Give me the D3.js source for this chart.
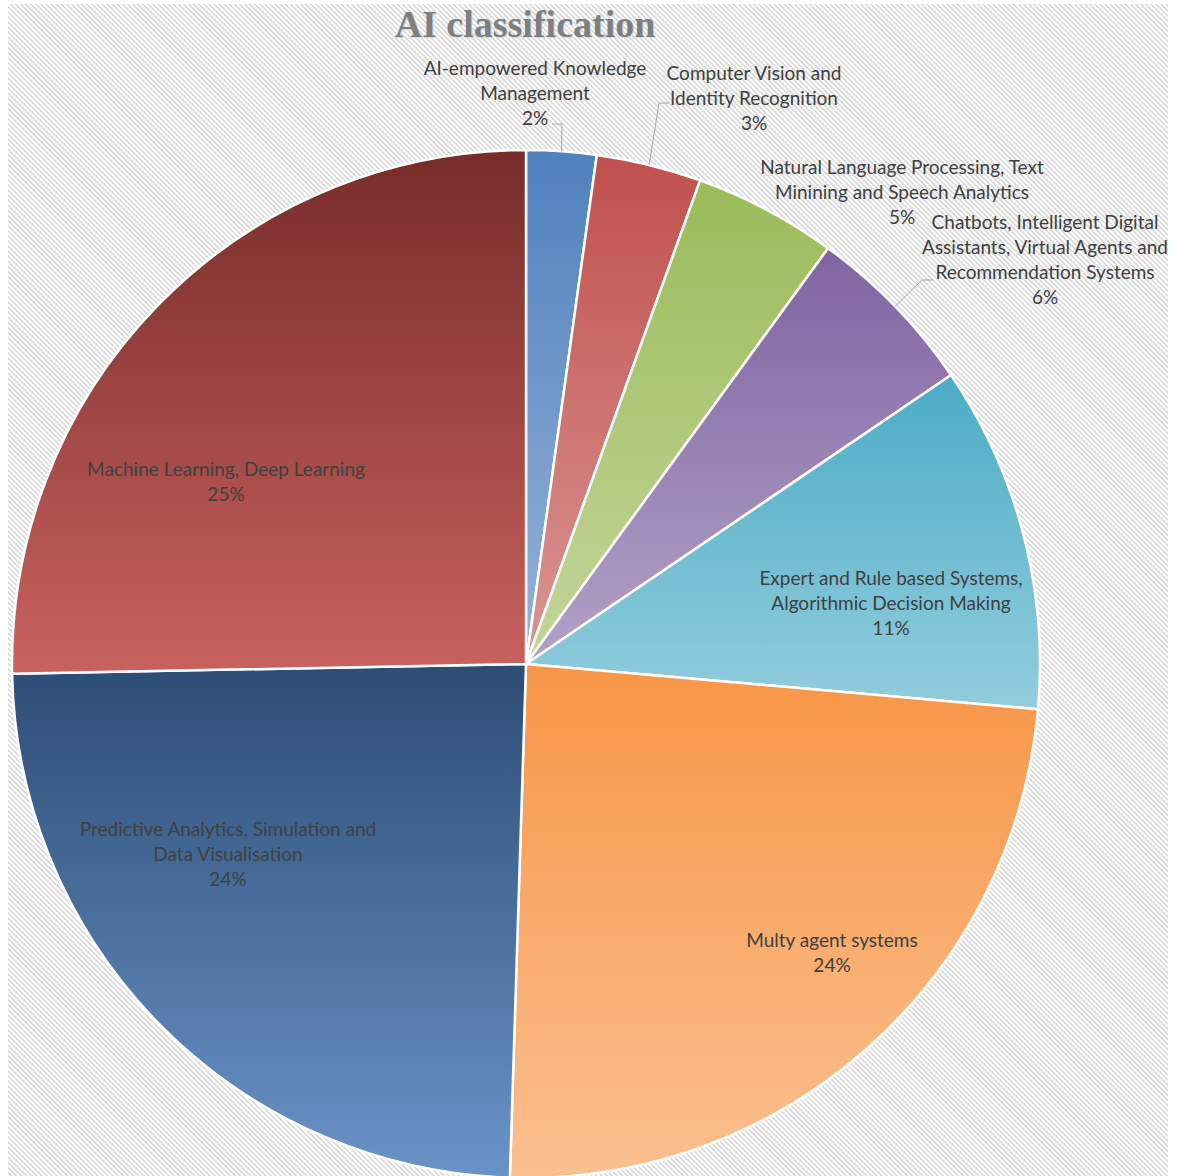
<!DOCTYPE html>
<html>
<head>
<meta charset="utf-8">
<script src="https://cdn.jsdelivr.net/npm/d3@7"></script>
<style>
  html, body { margin: 0; padding: 0; background: #ffffff; }
  svg { display: block; }
</style>
</head>
<body>
<svg id="chart" width="1178" height="1176"></svg>
<script>
// ---- data ----
const categories = [
  "AI-empowered Knowledge Management",
  "Computer Vision and Identity Recognition",
  "Natural Language Processing, Text Minining and Speech Analytics",
  "Chatbots, Intelligent Digital Assistants, Virtual Agents and Recommendation Systems",
  "Expert and Rule based Systems, Algorithmic Decision Making",
  "Multy agent systems",
  "Predictive Analytics, Simulation and Data Visualisation",
  "Machine Learning, Deep Learning"
];
const values = [2.2, 3.3, 4.5, 5.5, 10.9, 24.1, 24.2, 25.3];
const percentLabels = ["2%", "3%", "5%", "6%", "11%", "24%", "24%", "25%"];
const labelLines = [
  ["AI-empowered Knowledge", "Management"],
  ["Computer Vision and", "Identity Recognition"],
  ["Natural Language Processing, Text", "Minining and Speech Analytics"],
  ["Chatbots, Intelligent Digital", "Assistants, Virtual Agents and", "Recommendation Systems"],
  ["Expert and Rule based Systems,", "Algorithmic Decision Making"],
  ["Multy agent systems"],
  ["Predictive Analytics, Simulation and", "Data Visualisation"],
  ["Machine Learning, Deep Learning"]
];
const title = "AI classification";

// ---- styles / layout ----
const colorTop    = ["#4f81bd", "#c0504d", "#9bbb59", "#8064a2", "#4bacc6", "#f79646", "#2c4d75", "#772c2a"];
const colorBottom = ["#95b3d7", "#da9694", "#c3d69b", "#b2a2c7", "#93cddd", "#fac090", "#6a93c8", "#c9625f"];
// label anchor: center x, center y of first line
const labelPos = [
  [535, 68], [754, 73], [902, 167], [1045, 222],
  [891, 578], [832, 940], [228, 829], [226, 469]
];
// leader line: elbow and end points (label side)
const leaderPts = {
  0: [[562, 124], [552, 124]],
  1: [[659, 103], [669, 103]],
  3: [[922, 280], [933, 280]]
};

const W = 1178, H = 1176;
const cx = 526, cy = 664, R = 514;
const lineH = 25;

const svg = d3.select("#chart");
const defs = svg.append("defs");

// hatched background
const pat = defs.append("pattern")
  .attr("id", "hatch")
  .attr("patternUnits", "userSpaceOnUse")
  .attr("width", 3.6).attr("height", 3.6)
  .attr("patternTransform", "rotate(-45)");
pat.append("rect").attr("width", 3.6).attr("height", 3.6).attr("fill", "#ffffff");
pat.append("rect").attr("width", 1.7).attr("height", 3.6).attr("fill", "#d9d9d9");

svg.append("rect").attr("x", 0).attr("y", 0).attr("width", W).attr("height", H).attr("fill", "#ffffff");
svg.append("rect").attr("x", 8).attr("y", 4).attr("width", 1160).attr("height", H - 4).attr("fill", "url(#hatch)");

// gradients
values.forEach((v, i) => {
  const g = defs.append("linearGradient")
    .attr("id", "grad" + i)
    .attr("x1", 0).attr("y1", 0).attr("x2", 0).attr("y2", 1);
  g.append("stop").attr("offset", "0%").attr("stop-color", colorTop[i]);
  g.append("stop").attr("offset", "100%").attr("stop-color", colorBottom[i]);
});

const pie = d3.pie().sort(null).value(d => d).startAngle(0).endAngle(2 * Math.PI);
const arcs = pie(values);
const arc = d3.arc().innerRadius(0).outerRadius(R);
const edgeArc = d3.arc().innerRadius(R).outerRadius(R);

const gPie = svg.append("g").attr("transform", `translate(${cx},${cy})`);
gPie.selectAll("path.slice")
  .data(arcs)
  .join("path")
  .attr("class", "slice")
  .attr("d", arc)
  .attr("fill", (d, i) => `url(#grad${i})`)
  .attr("stroke", "#ffffff")
  .attr("stroke-width", 2.5)
  .attr("stroke-linejoin", "round");

// leader lines
arcs.forEach((d, i) => {
  if (!leaderPts[i]) return;
  const [sx, sy] = edgeArc.centroid(d);
  const pts = [[sx + cx, sy + cy]].concat(leaderPts[i]);
  svg.append("path")
    .attr("d", d3.line()(pts))
    .attr("fill", "none")
    .attr("stroke", "#a6a6a6")
    .attr("stroke-width", 1);
});

// labels
const fontFam = "Lato, 'Noto Sans', sans-serif";
arcs.forEach((d, i) => {
  const lines = labelLines[i].concat([percentLabels[i]]);
  const [lx, ly] = labelPos[i];
  const t = svg.append("text")
    .attr("text-anchor", "middle")
    .attr("font-family", fontFam)
    .attr("font-size", 19)
    .attr("fill", "#404040");
  lines.forEach((ln, k) => {
    t.append("tspan")
      .attr("x", lx)
      .attr("y", ly + k * lineH)
      .attr("dy", "0.35em")
      .text(ln);
  });
});

// title
svg.append("text")
  .attr("x", 525 + 1).attr("y", 37 + 1)
  .attr("text-anchor", "middle")
  .attr("font-family", "'Liberation Serif', 'DejaVu Serif', serif")
  .attr("font-weight", "bold")
  .attr("font-size", 38)
  .attr("fill", "#cfd8e6")
  .text(title);
svg.append("text")
  .attr("x", 525).attr("y", 37)
  .attr("text-anchor", "middle")
  .attr("font-family", "'Liberation Serif', 'DejaVu Serif', serif")
  .attr("font-weight", "bold")
  .attr("font-size", 38)
  .attr("fill", "#7f7f7f")
  .text(title);
</script>
</body>
</html>
